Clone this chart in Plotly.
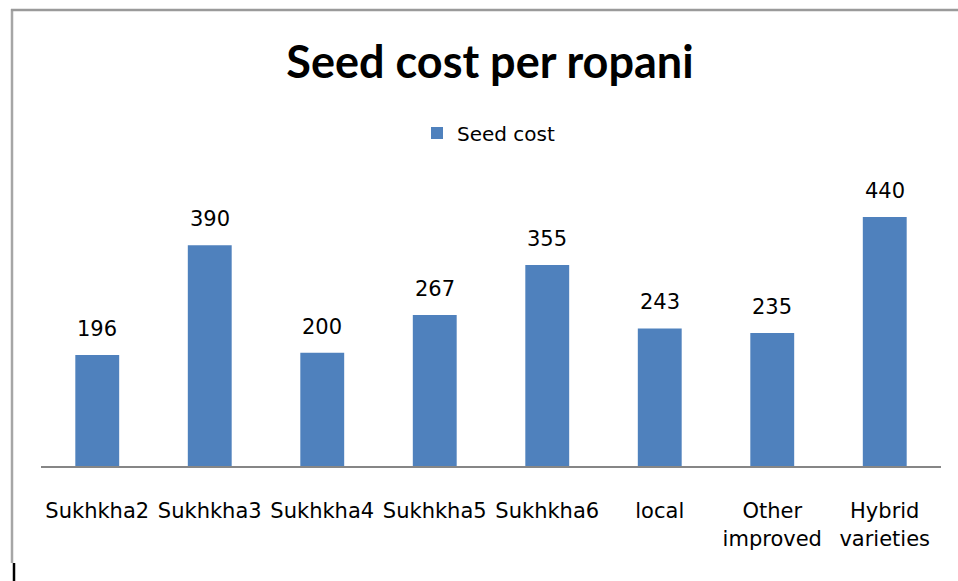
import plotly.graph_objects as go

categories = ["Sukhkha2", "Sukhkha3", "Sukhkha4", "Sukhkha5", "Sukhkha6", "local", "Other<br>improved", "Hybrid<br>varieties"]
seed_cost = [196, 390, 200, 267, 355, 243, 235, 440]
series_name = "Seed cost"
title_text = "Seed cost per ropani"

BAR = "#4F81BD"
FONT = "DejaVu Sans"

fig = go.Figure()
fig.add_trace(go.Bar(x=categories, y=seed_cost, name=series_name, marker=dict(color=BAR, line=dict(width=0)),
                     showlegend=True))

for c, v in zip(categories, seed_cost):
    fig.add_annotation(x=c, y=v, text=str(v), showarrow=False, yanchor="bottom", yshift=12,
                       font=dict(family=FONT, size=21, color="#000000"))

def px_x(px):
    return (px - 41) / 900.0

def px_y(py):
    return (466 - py) / 283.0

# chart frame
fig.add_shape(type="line", xref="paper", yref="paper", x0=px_x(12), x1=px_x(12), y0=px_y(9), y1=px_y(563),
              line=dict(color="#A6A6A6", width=2.5))
fig.add_shape(type="line", xref="paper", yref="paper", x0=px_x(11), x1=px_x(960), y0=px_y(10), y1=px_y(10),
              line=dict(color="#9A9A9A", width=2.5))
fig.add_shape(type="line", xref="paper", yref="paper", x0=px_x(14), x1=px_x(14), y0=px_y(563), y1=px_y(582),
              line=dict(color="#000000", width=2.5))

fig.update_layout(
    width=958, height=581,
    margin=dict(l=41, r=17, t=183, b=115),
    paper_bgcolor="white", plot_bgcolor="white",
    bargap=0.61,
    title=dict(text="<b>" + title_text + "</b>", x=(490 / 958), xanchor="center", y=1 - 62 / 581, yanchor="middle",
               font=dict(family="Lato", size=45, color="#000000")),
    legend=dict(orientation="h", x=px_x(489), xanchor="center", y=px_y(133), yanchor="middle",
                font=dict(family=FONT, size=20, color="#000000"), bgcolor="rgba(0,0,0,0)"),
    xaxis=dict(showline=True, linecolor="#868686", linewidth=2, ticks="", showgrid=False,
               tickfont=dict(family=FONT, size=21, color="#000000"), ticklabelstandoff=25),
    yaxis=dict(range=[0, 500], visible=False, showgrid=False, zeroline=False),
)

fig.write_html("out.html", config={"displayModeBar": False},
               post_script="document.body.style.margin='0';document.body.style.padding='0';")
